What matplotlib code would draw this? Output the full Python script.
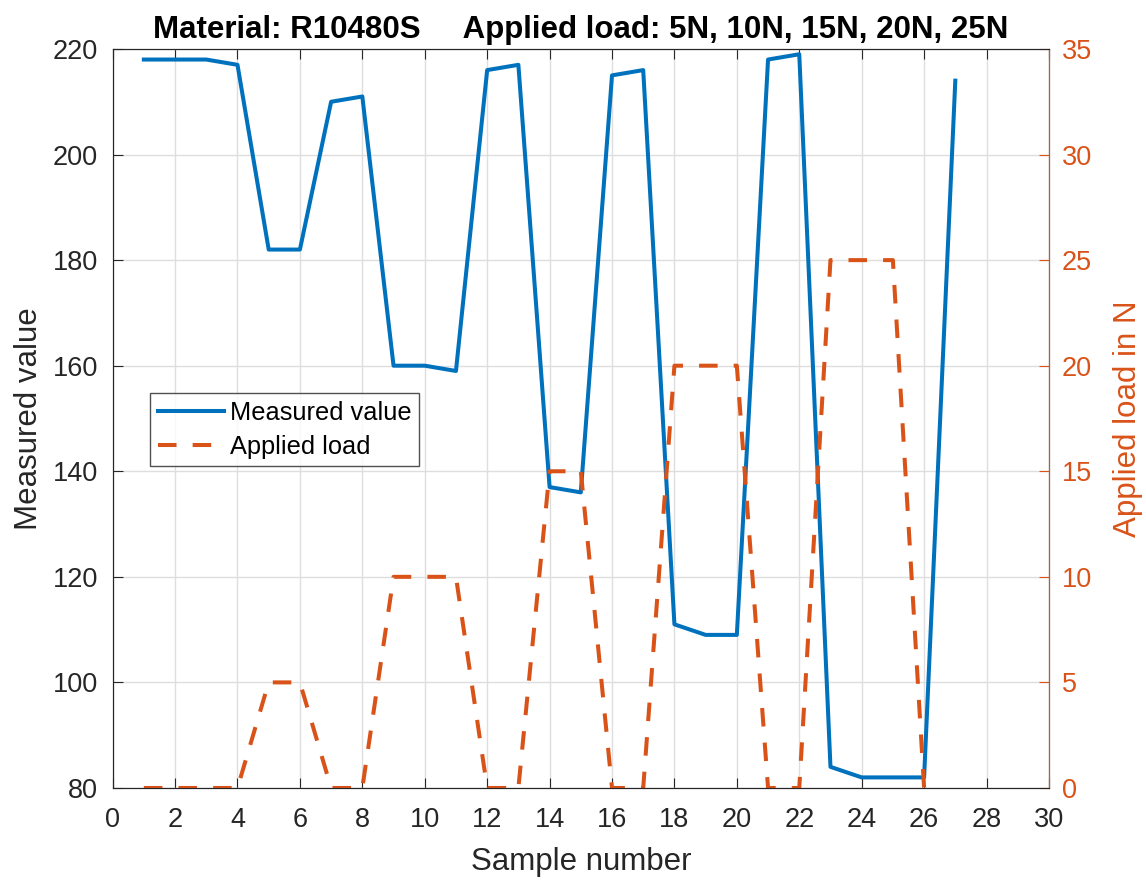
import matplotlib
matplotlib.use("Agg")
import matplotlib.pyplot as plt

plt.rcParams['font.family'] = ['Liberation Sans', 'DejaVu Sans']

samples = list(range(1, 28))
measured = [218, 218, 218, 217, 182, 182, 210, 211, 160, 160, 159, 216, 217, 137,
            136, 215, 216, 111, 109, 109, 218, 219, 84, 82, 82, 82, 214]
load_samples = list(range(1, 27))
load = [0, 0, 0, 0, 5, 5, 0, 0, 10, 10, 10, 0, 0, 15, 15, 0, 0, 20, 20, 20,
        0, 0, 25, 25, 25, 0]

blue = "#0072BD"
orange = "#D95319"
dark = "#262626"

fig = plt.figure(figsize=(11.46, 8.81), dpi=100)
ax = fig.add_axes([0.0983, 0.1056, 0.817, 0.8388])
ax2 = ax.twinx()

l1, = ax.plot(samples, measured, color=blue, lw=2.9, label="Measured value")
l2, = ax2.plot(load_samples, load, color=orange, lw=2.9, label="Applied load")
l2.set_dashes((4.6, 4.0))

ax.set_xlim(0, 30)
ax.set_ylim(80, 220)
ax2.set_ylim(0, 35)
ax.set_xticks(range(0, 31, 2))
ax.set_yticks(range(80, 221, 20))
ax2.set_yticks(range(0, 36, 5))

ax.grid(True, color="#dedede", lw=1)
ax.set_axisbelow(True)

ax.tick_params(axis="both", direction="in", length=7, labelsize=19.5, top=True, right=False,
               color=dark, labelcolor=dark)
ax.tick_params(axis="x", pad=14)
ax.tick_params(axis="y", pad=10.5)
ax2.tick_params(axis="y", direction="in", length=7, labelsize=19.5, colors=orange, pad=9.4)
ax2.spines["right"].set_color(orange)
for s in ["left", "bottom", "top"]:
    ax.spines[s].set_color(dark)
    ax2.spines[s].set_color(dark)

ax.set_xlabel("Sample number", fontsize=22.5, color=dark, labelpad=10)
ax.set_ylabel("Measured value", fontsize=22.5, color=dark, labelpad=6)
ax2.set_ylabel("Applied load in N", fontsize=22.5, color=orange, labelpad=15)
ax.set_title("Material: R10480S     Applied load: 5N, 10N, 15N, 20N, 25N",
             fontsize=22.5, fontweight="bold", pad=8)

leg = ax2.legend(handles=[l1, l2], loc="upper left", bbox_to_anchor=(0.0398, 0.5345),
                 borderaxespad=0, fontsize=18.3, frameon=True, fancybox=False,
                 edgecolor=dark, handlelength=2.6, handletextpad=0.25,
                 borderpad=0.3, labelspacing=0.4)
leg.get_frame().set_linewidth(1)

fig.savefig("out.png", dpi=100)
